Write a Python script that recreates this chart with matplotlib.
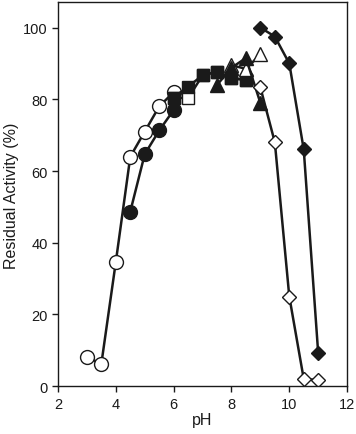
import numpy as np
import matplotlib
matplotlib.use('Agg')
import matplotlib.pyplot as plt

plt.rcParams['font.family'] = ['Liberation Sans', 'DejaVu Sans']

# open circles
ph_oc = [3, 3.5, 4, 4.5, 5, 5.5, 6]
act_oc = [8, 6.3, 34.7, 64, 71, 78, 82]
# filled circles
ph_fc = [4.5, 5, 5.5, 6]
act_fc = [48.7, 64.7, 71.3, 77]
# open squares (mostly hidden behind the filled ones)
ph_os = [6, 6.5, 7, 7.5, 8, 8.5]
act_os = [80.5, 80.3, 86.7, 87.7, 85.8, 85.5]
# filled squares
ph_fs = [6, 6.5, 7, 7.5, 8, 8.5]
act_fs = [80.5, 83.5, 86.7, 87.7, 85.8, 85.5]
# open triangles
ph_ot = [8, 8.5, 9]
act_ot = [89.5, 88.5, 92.5]
# filled triangles
ph_ft = [7.5, 8, 8.5, 9]
act_ft = [84, 88.8, 91.5, 79]
# open diamonds
ph_od = [9, 9.5, 10, 10.5, 11]
act_od = [83.3, 68, 25, 2, 1.7]
# filled diamonds
ph_fd = [9, 9.5, 10, 10.5, 11]
act_fd = [100, 97.5, 90, 66, 9.2]

col = '#1a1a1a'
fig = plt.figure(figsize=(3.56, 4.35), dpi=100)
ax = fig.add_axes([0.163, 0.110, 0.812, 0.882])

def series(x, y, m, ms, filled):
    ax.plot(x, y, '-', color=col, lw=1.8, marker=m, ms=ms,
            mfc=col if filled else 'white', mec=col, mew=1.0)

series(ph_oc, act_oc, 'o', 10, False)
series(ph_fc, act_fc, 'o', 10, True)
series(ph_os, act_os, 's', 9, False)
series(ph_fs, act_fs, 's', 9, True)
series(ph_ot, act_ot, '^', 9.5, False)
series(ph_ft, act_ft, '^', 9.5, True)
series(ph_od, act_od, 'D', 7, False)
series(ph_fd, act_fd, 'D', 7, True)

ax.set_xlim(2, 12)
ax.set_ylim(0, 107)
ax.set_xticks([2, 4, 6, 8, 10, 12])
ax.set_yticks([0, 20, 40, 60, 80, 100])
ax.tick_params(direction='out', length=4, width=1, labelsize=10.5, colors=col, top=False, right=False)
for s in ax.spines.values():
    s.set_linewidth(1)
    s.set_color(col)
ax.set_xlabel('pH', fontsize=11.5, color=col, labelpad=1)
ax.set_ylabel('Residual Activity (%)', fontsize=11.5, color=col, labelpad=3)

fig.savefig('out.png', dpi=100)
